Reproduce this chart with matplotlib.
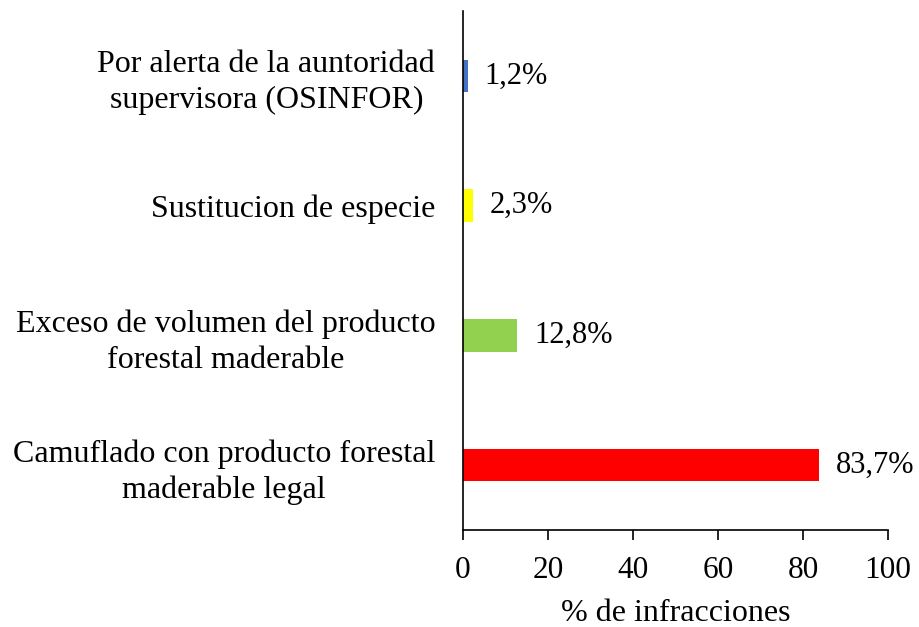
import matplotlib
matplotlib.use("Agg")
import matplotlib.pyplot as plt

categories = [
    "Camuflado con producto forestal\nmaderable legal",
    "Exceso de volumen del producto\nforestal maderable",
    "Sustitucion de especie",
    "Por alerta de la auntoridad\nsupervisora (OSINFOR)",
]
values = [83.7, 12.8, 2.3, 1.2]
value_labels = ["83,7%", "12,8%", "2,3%", "1,2%"]
colors = ["#FF0000", "#92D050", "#FFFF00", "#4472C4"]
xticks = [0, 20, 40, 60, 80, 100]

plt.rcParams['font.family'] = ['Liberation Serif', 'DejaVu Serif']

fig = plt.figure(figsize=(9.19, 6.27), dpi=100)
ax = fig.add_axes([0.5038, 0.1547, 0.9663 - 0.5038, 0.9825 - 0.1547])

y = list(range(len(categories)))
ax.barh(y, values, height=0.25, color=colors)
for yi, v, lab in zip(y, values, value_labels):
    ax.annotate(lab, (v, yi), xytext=(12, 0), textcoords="offset points",
                va="center", ha="left", fontsize=22)

ax.set_xlim(0, 100)
ax.set_ylim(-0.5, len(categories) - 0.5)
ax.set_xticks(xticks)
ax.set_xticklabels([str(t) for t in xticks], fontsize=22.5)
ax.set_yticks(y)
ax.set_yticklabels(categories, fontsize=23, multialignment="center", linespacing=1.3)
ax.tick_params(axis="y", length=0, pad=20)
ax.tick_params(axis="x", direction="out", length=7, width=1.2, pad=12)
ax.spines["top"].set_visible(False)
ax.spines["right"].set_visible(False)
ax.spines["left"].set_linewidth(1.2)
ax.spines["bottom"].set_linewidth(1.2)
ax.set_xlabel("% de infracciones", fontsize=23, labelpad=10)

fig.savefig("out.png", dpi=100)
